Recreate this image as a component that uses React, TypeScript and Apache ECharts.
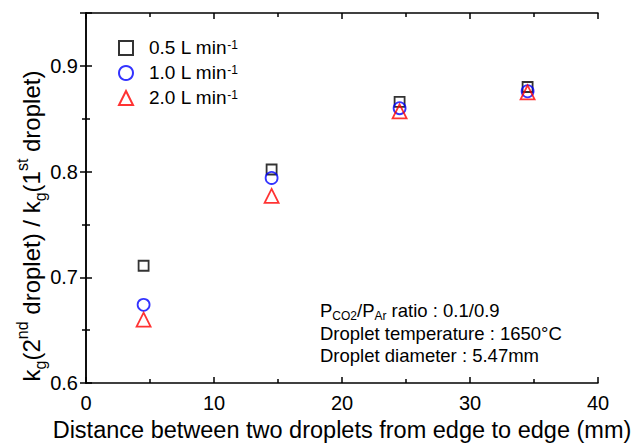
import React, { useEffect, useRef } from "react";
import * as echarts from "echarts";

// Flow rates (L min^-1) shown in the legend
const flowRates = ["0.5", "1.0", "2.0"];
// Edge-to-edge distance between droplets (mm)
const distances = [4.5, 14.5, 24.5, 34.5];
// Ratio kg(2nd droplet) / kg(1st droplet) for each flow rate
const ratio05 = [0.711, 0.802, 0.866, 0.88];
const ratio10 = [0.674, 0.794, 0.86, 0.876];
const ratio20 = [0.66, 0.777, 0.857, 0.875];

const yTicks = [0.6, 0.7, 0.8, 0.9];

const FONT = "Liberation Sans, Arial, sans-serif";

export default function App() {
  const ref = useRef<HTMLDivElement>(null);

  useEffect(() => {
    if (!ref.current) return;
    const chart = echarts.init(ref.current, undefined, { renderer: "svg" });

    const pairs = (ys: number[]) => distances.map((d, i) => [d, ys[i]]);
    const seriesDefs = [
      { name: flowRates[0], data: ratio05, symbol: "rect", color: "#000000", size: 10 },
      { name: flowRates[1], data: ratio10, symbol: "circle", color: "#0000ff", size: 12 },
      { name: flowRates[2], data: ratio20, symbol: "triangle", color: "#ff0000", size: 14 },
    ];

    const axisLine = { show: true, lineStyle: { color: "#000", width: 1.5 } };
    const tick = { show: true, inside: true, length: 6, lineStyle: { color: "#000", width: 1.5 } };
    const minor = { show: true, splitNumber: 2, length: 4, lineStyle: { color: "#000", width: 1.5 } };

    chart.setOption({
      animation: false,
      grid: { left: 86, right: 39, top: 13, bottom: 57, containLabel: false },
      legend: {
        orient: "vertical",
        left: 113,
        top: 33,
        itemGap: 6,
        itemWidth: 14,
        itemHeight: 14,
        data: flowRates,
        formatter: (name: string) => `{a|${name} L min}{s|-1}`,
        textStyle: {
          rich: {
            a: { fontFamily: FONT, fontSize: 19, color: "#000", padding: [0, 0, 0, 11], lineHeight: 18, verticalAlign: "bottom" },
            s: { fontFamily: FONT, fontSize: 12, color: "#000", verticalAlign: "top", lineHeight: 18 },
          },
        },
      },
      xAxis: [
        {
          type: "value",
          min: 0,
          max: 40,
          interval: 10,
          name: "Distance between two droplets from edge to edge (mm)",
          nameLocation: "middle",
          nameGap: 34,
          nameTextStyle: { fontFamily: FONT, fontSize: 23.5, color: "#000" },
          axisLine,
          axisTick: tick,
          minorTick: minor,
          axisLabel: { fontFamily: FONT, fontSize: 20, color: "#000", margin: 10 },
          splitLine: { show: false },
        },
        {
          type: "value",
          position: "top",
          min: 0,
          max: 40,
          interval: 10,
          axisLine,
          axisTick: tick,
          minorTick: minor,
          axisLabel: { show: false },
          splitLine: { show: false },
        },
      ],
      yAxis: [
        {
          type: "value",
          min: 0.6,
          max: 0.95,
          interval: 0.1,
          axisLine,
          axisTick: tick,
          minorTick: minor,
          axisLabel: {
            fontFamily: FONT,
            fontSize: 20,
            color: "#000",
            margin: 8,
            showMaxLabel: false,
            formatter: (v: number) => (yTicks.some((t) => Math.abs(t - v) < 1e-6) ? v.toFixed(1) : ""),
          },
          splitLine: { show: false },
        },
        {
          type: "value",
          position: "right",
          min: 0.6,
          max: 0.95,
          interval: 0.1,
          axisLine,
          axisTick: tick,
          minorTick: minor,
          axisLabel: { show: false },
          splitLine: { show: false },
        },
      ],
      series: seriesDefs.map((s) => ({
        name: s.name,
        type: "scatter",
        xAxisIndex: 0,
        yAxisIndex: 0,
        data: pairs(s.data),
        symbol: s.symbol,
        symbolSize: s.size,
        itemStyle: { color: "rgba(255,255,255,0)", borderColor: s.color, borderWidth: 1.8 },
      })),
      graphic: [
        {
          type: "text",
          x: 31,
          y: 226,
          rotation: Math.PI / 2,
          style: {
            text: "{n|k}{b|g}{n|(2}{t|nd}{n| droplet) / k}{b|g}{n|(1}{t|st}{n| droplet)}",
            align: "center",
            verticalAlign: "middle",
            rich: {
              n: { fontFamily: FONT, fontSize: 24, color: "#000", lineHeight: 34, verticalAlign: "middle" },
              b: { fontFamily: FONT, fontSize: 16, color: "#000", lineHeight: 34, verticalAlign: "bottom" },
              t: { fontFamily: FONT, fontSize: 16, color: "#000", lineHeight: 34, verticalAlign: "top" },
            },
          },
        },
        {
          type: "text",
          x: 320,
          y: 310,
          style: {
            text: "{n|P}{b|CO2}{n|/P}{b|Ar}{n| ratio : 0.1/0.9}",
            verticalAlign: "middle",
            rich: {
              n: { fontFamily: FONT, fontSize: 18.5, color: "#000", lineHeight: 24, verticalAlign: "middle" },
              b: { fontFamily: FONT, fontSize: 12, color: "#000", lineHeight: 24, verticalAlign: "bottom" },
            },
          },
        },
        {
          type: "text",
          x: 320,
          y: 333,
          style: { text: "Droplet temperature : 1650°C", fontFamily: FONT, fontSize: 18.5, fill: "#000", verticalAlign: "middle" },
        },
        {
          type: "text",
          x: 320,
          y: 355,
          style: { text: "Droplet diameter : 5.47mm", fontFamily: FONT, fontSize: 18.5, fill: "#000", verticalAlign: "middle" },
        },
      ],
    });

    return () => chart.dispose();
  }, []);

  return (
    <div
      ref={ref}
      style={{ width: 637, height: 447, position: "absolute", left: 0, top: 0, overflow: "hidden" }}
    />
  );
}
